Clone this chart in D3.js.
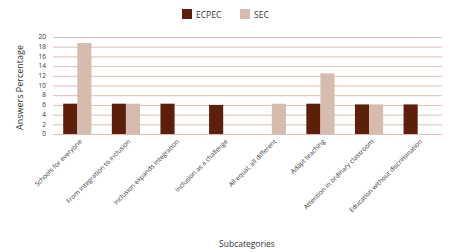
<!DOCTYPE html>
<html>
<head>
<meta charset="utf-8">
<script src="https://cdn.jsdelivr.net/npm/d3@7"></script>
<style>
  body { margin: 0; background: #fff; }
  text { font-family: "Open Sans", sans-serif; fill: #333; }
</style>
</head>
<body>
<div id="chart"></div>
<script>
var categories = ["Schools for everyone", "From integration to inclusion", "Inclusion expands integration",
  "Inclusion as a challenge", "All equal, all different", "Adapt teaching",
  "Attention in ordinary classroom", "Education without discrimination"];
var series = ["ECPEC", "SEC"];
var ecpec = [6.25, 6.25, 6.25, 6.0, 0, 6.25, 6.1, 6.1];
var sec = [18.75, 6.25, 0, 0, 6.25, 12.5, 6.1, 0];
var yTicks = [0, 2, 4, 6, 8, 10, 12, 14, 16, 18, 20];
var colors = ["#5e1f0a", "#d6bcae"];

var width = 453, height = 252;
var plotLeft = 53, plotRight = 442, plotTop = 37, plotBottom = 134;

var svg = d3.select("#chart").append("svg")
  .attr("width", width)
  .attr("height", height);

var x0 = d3.scaleBand()
  .domain(categories)
  .range([plotLeft, plotRight])
  .paddingInner(0.42)
  .paddingOuter(0.21);

var x1 = d3.scaleBand()
  .domain(series)
  .range([0, x0.bandwidth()]);

var yScale = d3.scaleLinear()
  .domain([0, 20])
  .range([plotBottom, plotTop]);

// grid
svg.append("g").selectAll("line").data(yTicks).enter().append("line")
  .attr("x1", plotLeft)
  .attr("x2", plotRight)
  .attr("y1", function(d){ return yScale(d) + 0.5; })
  .attr("y2", function(d){ return yScale(d) + 0.5; })
  .style("stroke", "#dcc0b4")
  .style("stroke-width", 1);

// y tick labels
svg.append("g").selectAll("text").data(yTicks).enter().append("text")
  .attr("x", 46)
  .attr("y", function(d){ return yScale(d); })
  .attr("dy", "0.35em")
  .style("text-anchor", "end")
  .style("font-size", "6.5px")
  .text(function(d){ return d; });

var table = categories.map(function(c, i){
  return {cat: c, values: [ecpec[i], sec[i]]};
});

var groups = svg.append("g").selectAll("g").data(table).enter().append("g")
  .attr("transform", function(d){ return "translate(" + x0(d.cat) + ",0)"; });

groups.selectAll("rect")
  .data(function(d){ return d.values.map(function(v, j){ return {s: series[j], v: v, j: j}; }); })
  .enter().append("rect")
  .filter(function(d){ return d.v > 0; })
  .attr("x", function(d){ return x1(d.s); })
  .attr("width", x1.bandwidth())
  .attr("y", function(d){ return yScale(d.v); })
  .attr("height", function(d){ return yScale(0) - yScale(d.v); })
  .attr("fill", function(d){ return colors[d.j]; });

// x labels
svg.append("g").selectAll("text").data(categories).enter().append("text")
  .attr("transform", function(d){
    return "translate(" + (x0(d) + x0.bandwidth() / 2 + 5) + "," + (plotBottom + 8) + ") rotate(-45)";
  })
  .style("text-anchor", "end")
  .style("font-size", "6.5px")
  .text(function(d){ return d; });

// axis titles
svg.append("text")
  .attr("transform", "translate(23," + ((plotTop + plotBottom) / 2 + 2) + ") rotate(-90)")
  .style("text-anchor", "middle")
  .style("font-size", "9px")
  .text("Answers Percentage");

svg.append("text")
  .attr("x", 247)
  .attr("y", 247)
  .style("text-anchor", "middle")
  .style("font-size", "8.5px")
  .text("Subcategories");

// legend
var legendX = [182, 240];
var legend = svg.append("g").selectAll("g").data(series).enter().append("g")
  .attr("transform", function(d, i){ return "translate(" + legendX[i] + ",9)"; });
legend.append("rect")
  .attr("width", 10)
  .attr("height", 10)
  .attr("fill", function(d, i){ return colors[i]; });
legend.append("text")
  .attr("x", 14)
  .attr("y", 9)
  .style("font-size", "8.5px")
  .text(function(d){ return d; });
</script>
</body>
</html>
